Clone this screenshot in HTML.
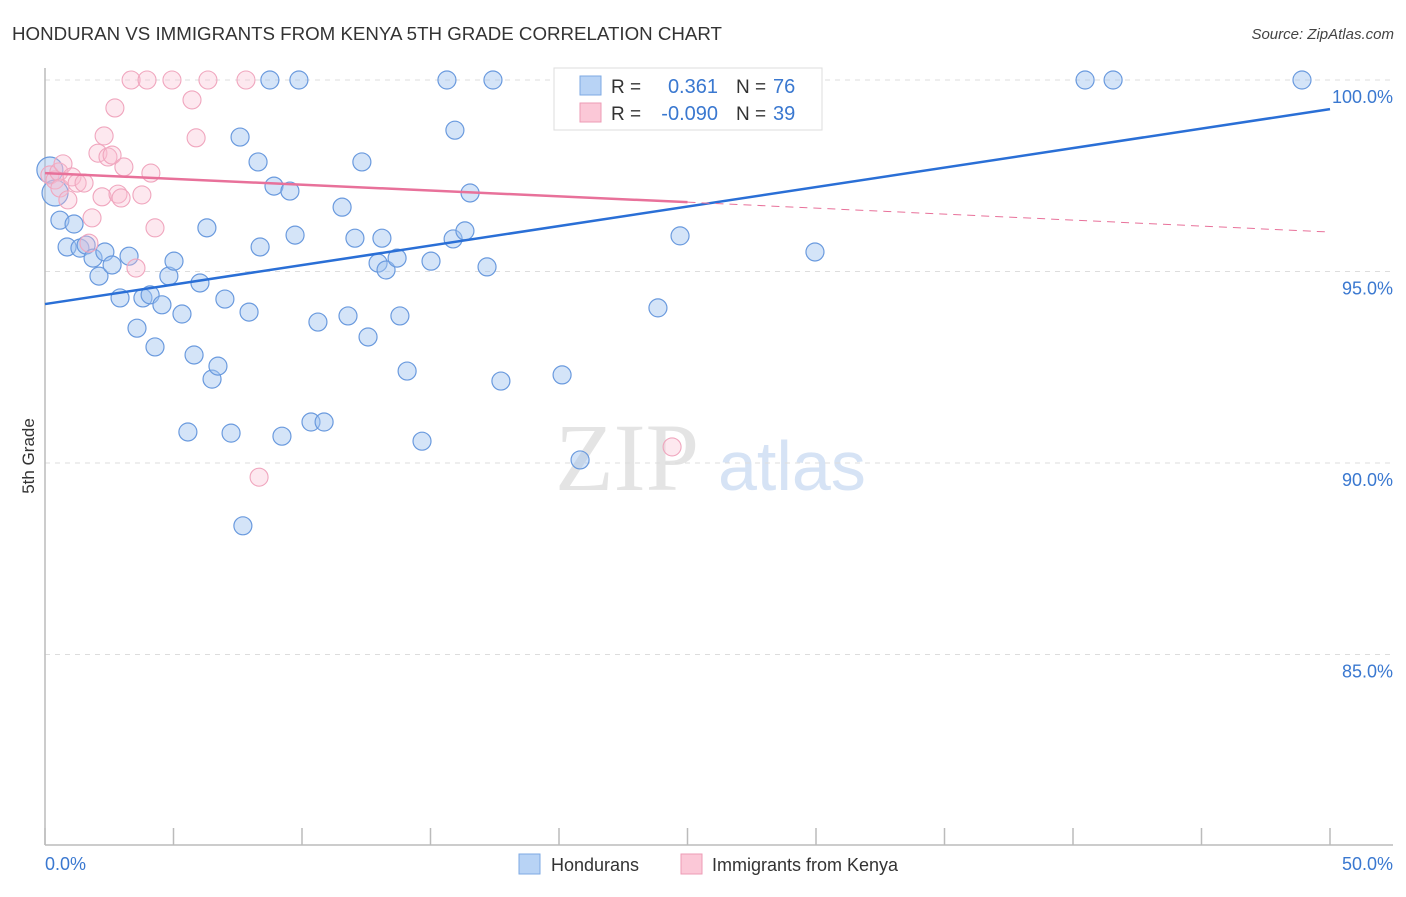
<!DOCTYPE html>
<html><head><meta charset="utf-8"><style>
body{margin:0;background:#fff;font-family:"Liberation Sans",sans-serif;}
</style></head><body>
<svg width="1406" height="892" xmlns="http://www.w3.org/2000/svg" font-family="Liberation Sans, sans-serif">
<text x="12" y="40" font-size="18" fill="#333" textLength="710" lengthAdjust="spacingAndGlyphs">HONDURAN VS IMMIGRANTS FROM KENYA 5TH GRADE CORRELATION CHART</text>
<text x="1394" y="39" font-size="15" fill="#444" text-anchor="end" font-style="italic">Source: ZipAtlas.com</text>
<text x="555" y="490" font-size="96" fill="#e4e4e4" font-family="Liberation Serif, serif">ZIP</text>
<text x="718" y="490" font-size="70" fill="#d6e3f5">atlas</text>
<g id="grid"></g>
<g id="axes"></g>
<g id="marks"></g>
<g id="lines"></g>
<text transform="translate(34,456) rotate(-90)" font-size="17" fill="#333" text-anchor="middle">5th Grade</text>
<g>
<rect x="554" y="68" width="268" height="62" fill="#fff" stroke="#ddd"/>
<rect x="580" y="76" width="21" height="19" fill="#b8d3f5" stroke="#7ea9e3"/>
<rect x="580" y="103" width="21" height="19" fill="#fbc8d7" stroke="#ee9bb6"/>
<text x="611" y="93" font-size="19" fill="#333">R =</text>
<text x="718" y="93" font-size="20" fill="#3a78d0" text-anchor="end">0.361</text>
<text x="736" y="93" font-size="19" fill="#333">N =</text>
<text x="773" y="93" font-size="20" fill="#3a78d0">76</text>
<text x="611" y="120" font-size="19" fill="#333">R =</text>
<text x="718" y="120" font-size="20" fill="#3a78d0" text-anchor="end">-0.090</text>
<text x="736" y="120" font-size="19" fill="#333">N =</text>
<text x="773" y="120" font-size="20" fill="#3a78d0">39</text>
</g>
<g>
<rect x="519" y="854" width="21" height="20" fill="#b8d3f5" stroke="#7ea9e3"/>
<text x="551" y="871" font-size="18" fill="#333">Hondurans</text>
<rect x="681" y="854" width="21" height="20" fill="#fbc8d7" stroke="#ee9bb6"/>
<text x="712" y="871" font-size="18" fill="#333">Immigrants from Kenya</text>
</g>
</svg>
<script>
const yTicks=[100,95,90,85];
const yTickLabels=["100.0%","95.0%","90.0%","85.0%"];
const xTicks=[0,5,10,15,20,25,30,35,40,45,50];
const blueX=[0.19,0.39,0.58,0.86,1.13,1.36,1.60,1.87,2.10,2.33,2.61,2.92,3.27,3.58,3.81,4.09,4.28,4.55,4.82,5.02,5.33,5.56,5.80,6.03,6.30,6.50,6.73,7.00,7.24,7.59,7.70,7.94,8.29,8.37,8.75,8.91,9.22,9.53,9.73,9.88,10.35,10.62,10.86,11.56,11.79,12.06,12.33,12.57,12.96,13.11,13.27,13.70,13.81,14.09,14.67,15.02,15.64,15.88,15.95,16.34,16.54,17.20,17.43,17.74,20.12,20.82,23.85,24.71,24.94,28.21,29.96,40.47,41.56,48.91];
const blueY=[97.65,97.05,96.34,95.64,96.24,95.61,95.69,95.35,94.88,95.51,95.17,94.31,95.40,93.52,94.31,94.39,93.03,94.13,94.88,95.27,93.89,90.81,92.82,94.70,96.14,92.19,92.53,94.28,90.78,98.51,88.36,93.94,97.86,95.64,100,97.23,90.70,97.10,95.95,100,91.07,93.68,91.07,96.68,93.84,95.87,97.86,93.29,95.22,95.87,95.04,95.35,93.84,92.40,90.57,95.27,100,95.85,98.69,96.06,97.05,95.12,100,92.14,92.30,90.08,94.05,95.93,100,100,95.51,100,100,100];
const pinkX=[0.19,0.39,0.54,0.58,0.70,0.89,1.05,1.25,1.52,1.71,1.83,2.06,2.22,2.30,2.45,2.61,2.72,2.84,2.96,3.07,3.35,3.54,3.77,3.97,4.12,4.28,4.94,5.72,5.88,6.34,7.82,8.33,23.27,24.40,24.98];
const pinkY=[97.52,97.39,97.60,97.18,97.81,96.87,97.47,97.31,97.31,95.74,96.40,98.09,96.95,98.54,97.99,98.04,99.27,97.02,96.92,97.73,100,95.09,97.00,100,97.57,96.14,100,99.48,98.49,100,100,89.63,100,90.42,100];
const blueTrendX=[0,50], blueTrendY=[94.15,99.24];
const pinkTrendX=[0,25,50], pinkTrendY=[97.57,96.81,96.03];
const NS='http://www.w3.org/2000/svg';
const sx=v=>45+v/50*1285;
const sy=v=>80+(100-v)/5*191.5;
function mk(tag,attrs,parent){const e=document.createElementNS(NS,tag);for(const k in attrs)e.setAttribute(k,attrs[k]);document.getElementById(parent).appendChild(e);return e;}
yTicks.forEach((t,i)=>{
 const l=mk('line',{x1:45,x2:1393,y1:sy(t),y2:sy(t),stroke:'#ddd','stroke-dasharray':'5,5'},'grid');
 
 
 const tx=mk('text',{x:1393,y:sy(t)+23,'font-size':18,fill:'#3a78d0','text-anchor':'end'},'grid');
 tx.textContent=yTickLabels[i];
 
 
});
const ya=mk('line',{x1:45,x2:45,y1:68,y2:845,stroke:'#bbb','stroke-width':1.5},'axes');


const xa=mk('line',{x1:45,x2:1393,y1:845,y2:845,stroke:'#bbb','stroke-width':1.5},'axes');


xTicks.forEach(t=>{
 const l=mk('line',{x1:sx(t),x2:sx(t),y1:828,y2:845,stroke:'#bbb','stroke-width':1.5},'axes');
 
 
});
const x0=mk('text',{x:45,y:870,'font-size':18,fill:'#3a78d0'},'axes');x0.textContent='0.0%';


const x1=mk('text',{x:1393,y:870,'font-size':18,fill:'#3a78d0','text-anchor':'end'},'axes');x1.textContent='50.0%';


blueX.forEach((v,i)=>{
 const c=mk('circle',{cx:sx(v),cy:sy(blueY[i]),r:i<2?13:9,fill:'rgba(160,196,240,0.45)',stroke:'#6a9ade','stroke-width':1.2},'marks');
 
 
});
pinkX.forEach((v,i)=>{
 const c=mk('circle',{cx:sx(v),cy:sy(pinkY[i]),r:9,fill:'rgba(248,190,208,0.35)',stroke:'#f0a6be','stroke-width':1.1},'marks');
 
 
});
const bl=mk('line',{x1:sx(blueTrendX[0]),y1:sy(blueTrendY[0]),x2:sx(blueTrendX[1]),y2:sy(blueTrendY[1]),stroke:'#2a6fd6','stroke-width':2.5},'lines');


const pl=mk('line',{x1:sx(pinkTrendX[0]),y1:sy(pinkTrendY[0]),x2:sx(pinkTrendX[1]),y2:sy(pinkTrendY[1]),stroke:'#e8719a','stroke-width':2.5},'lines');


const pd=mk('line',{x1:sx(pinkTrendX[1]),y1:sy(pinkTrendY[1]),x2:sx(pinkTrendX[2]),y2:sy(pinkTrendY[2]),stroke:'#e8719a','stroke-width':1,'stroke-dasharray':'8,6'},'lines');


</script>
</body></html>
